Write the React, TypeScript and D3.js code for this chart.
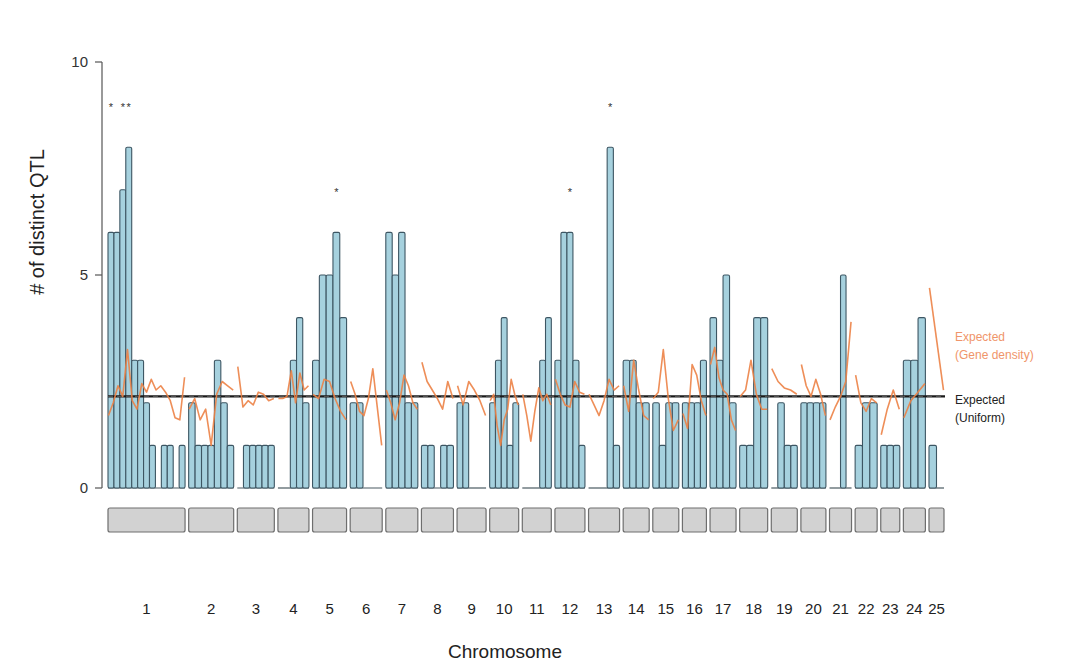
import * as d3 from 'd3';

// chromosome names and their relative lengths
const chromosomes = ['1', '2', '3', '4', '5', '6', '7', '8', '9', '10', '11', '12', '13',
  '14', '15', '16', '17', '18', '19', '20', '21', '22', '23', '24', '25'];
const chromLength = [77, 45, 37, 31, 34, 32, 32, 32, 29, 29, 29, 30, 31, 26, 26, 24, 26, 28, 26, 25, 22, 22, 19, 22, 15];

// observed number of distinct QTL per bin, one array per chromosome
const qtlCounts = [
  [6, 6, 7, 8, 3, 3, 2, 1, 0, 1, 1, 0, 1],
  [2, 1, 1, 1, 3, 2, 1],
  [0, 1, 1, 1, 1, 1],
  [0, 0, 3, 4, 2],
  [3, 5, 5, 6, 4],
  [2, 2, 0, 0, 0],
  [6, 5, 6, 2, 2],
  [1, 1, 0, 1, 1],
  [2, 2, 0, 0, 0],
  [2, 3, 4, 1, 2],
  [0, 0, 0, 3, 4],
  [3, 6, 6, 3, 1],
  [0, 0, 0, 8, 1],
  [3, 3, 2, 2],
  [2, 1, 2, 2],
  [2, 2, 2, 3],
  [4, 3, 5, 2],
  [1, 1, 4, 4],
  [0, 2, 1, 1],
  [2, 2, 2, 2],
  [0, 0, 5, 0],
  [1, 2, 2],
  [1, 1, 1],
  [3, 3, 4],
  [1, 0],
];

// expected counts given gene density, one array per chromosome
const geneDensity = [
  [1.7, 2.0, 2.4, 2.15, 3.25, 2.05, 1.85, 2.45, 2.25, 2.55, 2.3, 2.4, 2.25, 2.05, 1.65, 1.6, 2.6],
  [1.85, 2.1, 1.6, 1.85, 1.0, 2.2, 2.5, 2.4, 2.3],
  [2.85, 1.9, 2.05, 1.95, 2.25, 2.2, 2.05, 2.1],
  [2.1, 2.1, 2.15, 2.75, 2.0, 2.7, 2.3, 2.4],
  [2.2, 2.1, 2.55, 2.5, 2.1, 1.8, 1.6],
  [2.5, 2.2, 1.8, 1.7, 2.1, 2.8, 1.9, 1.0],
  [2.3, 2.0, 1.6, 2.0, 2.65, 2.4, 2.0, 1.85],
  [2.95, 2.5, 2.3, 2.1, 1.85, 2.5, 2.1],
  [2.4, 1.95, 2.5, 2.3, 2.05, 1.7],
  [2.05, 2.2, 1.45, 1.0, 1.6, 1.85, 2.55, 2.2, 1.95],
  [2.2, 1.7, 1.1, 1.8, 2.35, 2.05, 2.2, 1.95],
  [2.55, 2.2, 1.95, 1.9, 2.5, 2.25, 2.2],
  [2.2, 1.95, 1.7, 2.05, 2.55, 2.3, 2.4],
  [2.4, 1.8, 3.0, 2.3, 1.7, 1.6],
  [2.1, 2.25, 3.25, 2.1, 1.35, 1.6],
  [1.75, 1.4, 2.9, 2.65, 2.05, 1.7],
  [2.9, 3.3, 2.6, 2.3, 2.2, 1.6, 1.35],
  [2.15, 2.3, 3.0, 2.2, 1.85, 1.85],
  [2.8, 2.5, 2.35, 2.3, 2.2],
  [2.9, 2.4, 2.15, 2.55, 2.2, 1.7],
  [1.6, 1.9, 2.15, 2.5, 3.9],
  [2.65, 2.0, 1.8, 2.1, 2.0],
  [1.25, 1.85, 2.3, 1.85],
  [1.65, 2.05, 2.25, 2.45],
  [4.7, 2.3],
];

const uniformExpected = 2.15;

// significant bins: chromosome index, bin index
const significant = [
  { chr: 0, bin: 0 }, { chr: 0, bin: 2 }, { chr: 0, bin: 3 },
  { chr: 4, bin: 3 }, { chr: 11, bin: 2 }, { chr: 12, bin: 3 },
];

const yTicks = [0, 5, 10];

const W = 1082;
const H = 668;
const GAP = 3.6;
const FONT = '"Liberation Sans", Arial, Helvetica, sans-serif';

export default function App() {
  const starts: number[] = [];
  let acc = 0;
  chromLength.forEach((len) => {
    starts.push(acc);
    acc += len + GAP;
  });
  const total = acc - GAP;

  const x = d3.scaleLinear().domain([0, total]).range([108, 944]);
  const y = d3.scaleLinear().domain([0, 10]).range([488, 62]);

  const line = d3
    .line<[number, number]>()
    .x((d) => x(d[0]))
    .y((d) => y(d[1]));

  return (
    <svg width={W} height={H} style={{ position: 'absolute', left: 0, top: 0, background: '#fff' }} fontFamily={FONT}>
      {/* y axis */}
      <line x1={102} x2={102} y1={y(10)} y2={y(0)} stroke="#555" strokeWidth={1.2} />
      {yTicks.map((t) => (
        <g key={t}>
          <line x1={95} x2={102} y1={y(t)} y2={y(t)} stroke="#555" strokeWidth={1.2} />
          <text x={88} y={y(t)} dy="0.35em" textAnchor="end" fontSize={15} fill="#333">{t}</text>
        </g>
      ))}
      <text transform={`translate(44,222) rotate(-90)`} textAnchor="middle" fontSize={20} fill="#222">
        # of distinct QTL
      </text>

      {/* bars */}
      {qtlCounts.map((counts, ci) => {
        const bw = chromLength[ci] / counts.length;
        return (
          <g key={ci}>
            <line x1={x(starts[ci])} x2={x(starts[ci] + chromLength[ci])} y1={y(0)} y2={y(0)} stroke="#4a5a62" strokeWidth={1.2} />
            {counts.map((v, bi) =>
              v > 0 ? (
                <rect
                  key={bi}
                  x={x(starts[ci] + bi * bw)}
                  y={y(v)}
                  width={x(bw) - x(0)}
                  height={y(0) - y(v)}
                  rx={1.5}
                  fill="#a6d1de"
                  stroke="#3d5663"
                  strokeWidth={1.1}
                />
              ) : null,
            )}
          </g>
        );
      })}

      {/* significance stars */}
      {significant.map((s, i) => {
        const n = qtlCounts[s.chr].length;
        const bw = chromLength[s.chr] / n;
        const top = d3.max(qtlCounts[s.chr]) as number;
        return (
          <text key={i} x={x(starts[s.chr] + (s.bin + 0.5) * bw)} y={y(top + 1)} dy="0.55em" textAnchor="middle" fontSize={11} fill="#333">
            *
          </text>
        );
      })}

      {/* expected, uniform */}
      <line x1={x(0)} x2={x(total) + 1} y1={y(uniformExpected)} y2={y(uniformExpected)} stroke="#1a1a1a" strokeWidth={2.4} />
      <line x1={x(0)} x2={x(total) + 1} y1={y(uniformExpected)} y2={y(uniformExpected)} stroke="#666" strokeWidth={0.8} strokeDasharray="5,4" />

      {/* expected, gene density */}
      {geneDensity.map((vals, ci) => {
        const s = starts[ci] + 0.5;
        const e = starts[ci] + chromLength[ci] - 0.5;
        const pts: [number, number][] = vals.map((v, i) => [s + ((e - s) * i) / (vals.length - 1), v]);
        return <path key={ci} d={line(pts) ?? ''} fill="none" stroke="#ec8246" strokeWidth={1.6} strokeOpacity={0.9} strokeLinejoin="round" />;
      })}

      {/* legend */}
      <text x={955} y={341} fontSize={12} fill="#f0956a">Expected</text>
      <text x={955} y={359} fontSize={12} fill="#f0956a">(Gene density)</text>
      <text x={955} y={404} fontSize={12} fill="#222">Expected</text>
      <text x={955} y={422} fontSize={12} fill="#222">(Uniform)</text>

      {/* chromosome boxes and labels */}
      {chromosomes.map((c, ci) => (
        <g key={c}>
          <rect
            x={x(starts[ci])}
            y={508}
            width={x(chromLength[ci]) - x(0)}
            height={24}
            rx={2}
            fill="#d2d2d2"
            stroke="#6e6e6e"
            strokeWidth={1.2}
          />
          <text x={x(starts[ci] + chromLength[ci] / 2)} y={614} textAnchor="middle" fontSize={15} fill="#222">
            {c}
          </text>
        </g>
      ))}
      <text x={505} y={658} textAnchor="middle" fontSize={19} fill="#222">Chromosome</text>
    </svg>
  );
}
